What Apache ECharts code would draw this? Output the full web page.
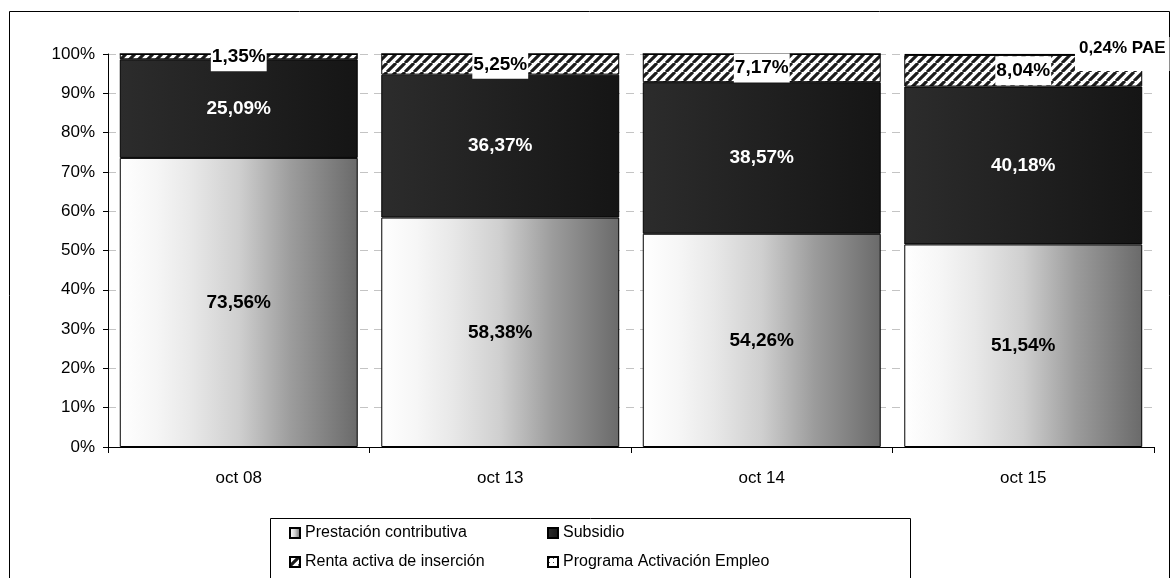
<!DOCTYPE html>
<html>
<head>
<meta charset="utf-8">
<script src="https://cdn.jsdelivr.net/npm/echarts@6/dist/echarts.min.js"></script>
<style>
  html, body { margin: 0; padding: 0; background: #fff; }
  #chart { width: 1172px; height: 578px; }
</style>
</head>
<body>
<div id="chart"></div>
<script>
// Distribución de prestaciones por tipo (porcentaje sobre el total)
const categories = ['oct 08', 'oct 13', 'oct 14', 'oct 15'];
const contributiva = [73.56, 58.38, 54.26, 51.54];
const subsidio = [25.09, 36.37, 38.57, 40.18];
const rentaActiva = [1.35, 5.25, 7.17, 8.04];
const programaPAE = [0, 0, 0, 0.24];
const yTicks = { min: 0, max: 100, interval: 10 };

const FONT = '"Liberation Sans", Arial, sans-serif';

// Diagonal hatching used for "Renta activa de inserción"
function stripePattern() {
  const s = 9;
  const c = document.createElement('canvas');
  c.width = s; c.height = s;
  const g = c.getContext('2d');
  g.fillStyle = '#ffffff';
  g.fillRect(0, 0, s, s);
  g.strokeStyle = '#1c1c1c';
  g.lineWidth = 3.1;
  g.beginPath();
  for (const k of [-s, 0, s]) { g.moveTo(k, s); g.lineTo(k + s, 0); }
  g.stroke();
  return c;
}

// Light dotted fill used for "Programa Activación Empleo"
function dotPattern() {
  const s = 4;
  const c = document.createElement('canvas');
  c.width = s; c.height = s;
  const g = c.getContext('2d');
  g.fillStyle = '#ffffff';
  g.fillRect(0, 0, s, s);
  g.fillStyle = '#555555';
  g.fillRect(1, 1, 1, 1);
  return c;
}

const fmt = v => v.toFixed(2).replace('.', ',') + '%';

const lightGrad = {
  type: 'linear', x: 0, y: 0, x2: 1, y2: 0,
  colorStops: [
    { offset: 0, color: '#ffffff' },
    { offset: 0.15, color: '#f6f6f6' },
    { offset: 0.3, color: '#e8e8e8' },
    { offset: 0.5, color: '#cfcfcf' },
    { offset: 0.72, color: '#9c9c9c' },
    { offset: 1, color: '#6a6a6a' }
  ]
};
const darkGrad = {
  type: 'linear', x: 0, y: 0, x2: 1, y2: 0,
  colorStops: [
    { offset: 0, color: '#2c2c2c' },
    { offset: 1, color: '#151515' }
  ]
};

const boldLabel = { fontFamily: FONT, fontWeight: 'bold', fontSize: 19 };
const border = { borderColor: '#000', borderWidth: 1 };

const legendBase = {
  orient: 'vertical', top: 525, height: 60, padding: 0, itemGap: 13,
  itemWidth: 10, itemHeight: 10, icon: 'rect',
  textStyle: { fontFamily: FONT, fontSize: 16, color: '#000' }
};

const chart = echarts.init(document.getElementById('chart'));
chart.setOption({
  animation: false,
  backgroundColor: '#ffffff',
  textStyle: { fontFamily: FONT },
  grid: { left: 108, right: 18, top: 54, bottom: 131 },
  graphic: [
    { type: 'rect', silent: true, z: 0,
      shape: { x: 9.5, y: 11.5, width: 1160, height: 620 },
      style: { fill: null, stroke: '#000', lineWidth: 1 } },
    { type: 'rect', silent: true, z: 0,
      shape: { x: 270.5, y: 518.5, width: 640, height: 100 },
      style: { fill: '#fff', stroke: '#000', lineWidth: 1 } }
  ],
  legend: [
    Object.assign({ left: 289, data: ['Prestación contributiva', 'Renta activa de inserción'] }, legendBase),
    Object.assign({ left: 547, data: ['Subsidio', 'Programa Activación Empleo'] }, legendBase)
  ],
  xAxis: {
    type: 'category',
    data: categories,
    axisLine: { lineStyle: { color: '#000', width: 1 } },
    axisTick: { show: true, alignWithLabel: false, length: 6, lineStyle: { color: '#000' } },
    axisLabel: { color: '#000', fontSize: 17, fontFamily: FONT, margin: 23 }
  },
  yAxis: {
    type: 'value',
    min: yTicks.min, max: yTicks.max, interval: yTicks.interval,
    axisLine: { show: true, lineStyle: { color: '#000', width: 1 } },
    axisTick: { show: true, length: 5, lineStyle: { color: '#000' } },
    axisLabel: { color: '#000', fontSize: 17, fontFamily: FONT, margin: 13, formatter: '{value}%' },
    splitLine: { show: true, lineStyle: { color: '#c4c4c4', type: [8, 6], width: 1 } }
  },
  series: [
    {
      name: 'Prestación contributiva', type: 'bar', stack: 'total',
      barCategoryGap: '9%',
      data: contributiva,
      itemStyle: Object.assign({ color: lightGrad }, border),
      label: Object.assign({ show: true, position: 'inside', color: '#000',
        formatter: p => fmt(p.value) }, boldLabel)
    },
    {
      name: 'Subsidio', type: 'bar', stack: 'total',
      data: subsidio,
      itemStyle: Object.assign({ color: darkGrad }, border),
      label: Object.assign({ show: true, position: 'inside', color: '#fff',
        formatter: p => fmt(p.value) }, boldLabel)
    },
    {
      name: 'Renta activa de inserción', type: 'bar', stack: 'total',
      data: rentaActiva,
      itemStyle: Object.assign({ color: { image: stripePattern(), repeat: 'repeat' } }, border),
      label: Object.assign({ show: true, position: 'inside', color: '#000',
        backgroundColor: '#ffffff', padding: [5, 1, 5, 1],
        formatter: p => fmt(p.value) }, boldLabel)
    },
    {
      name: 'Programa Activación Empleo', type: 'bar', stack: 'total',
      data: programaPAE.map(v => v > 0 ? {
        value: v,
        label: Object.assign({ show: true, position: 'top', distance: 0,
          offset: [99, 17], color: '#000', backgroundColor: '#ffffff',
          padding: [3, 4, 14, 4],
          formatter: p => fmt(p.value) + ' PAE' }, boldLabel, { fontSize: 17 })
      } : v),
      itemStyle: Object.assign({ color: { image: dotPattern(), repeat: 'repeat' } }, border)
    }
  ]
});
</script>
</body>
</html>
